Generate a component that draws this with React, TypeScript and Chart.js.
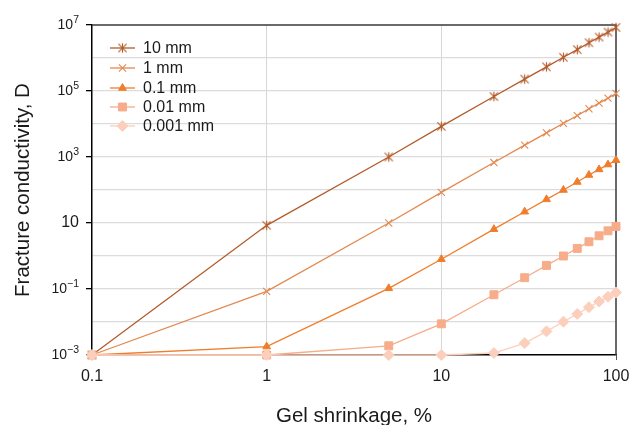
import React, { useEffect, useRef } from 'react';
import { Chart, registerables } from 'chart.js';
import { drawPoint } from 'chart.js/helpers';

Chart.register(...registerables);

// ---- data ----
const shrinkage = [0.1, 1, 5, 10, 20, 30, 40, 50, 60, 70, 80, 90, 100];
const cond10mm = [0.001, 8.5, 1000, 8500, 68000, 230000, 540000, 1050000, 1800000, 2900000, 4300000, 6100000, 8400000];
const cond1mm = [0.001, 0.085, 10, 85, 680, 2300, 5400, 10500, 18000, 29000, 43000, 61000, 84000];
const cond01mm = [0.001, 0.0018, 0.105, 0.8, 6.5, 22, 52, 100, 175, 285, 420, 590, 800];
const cond001mm = [0.001, 0.001, 0.0019, 0.0088, 0.067, 0.22, 0.52, 1.0, 1.7, 2.7, 4.1, 5.8, 7.9];
const cond0001mm = [0.001, 0.001, 0.001, 0.001, 0.00115, 0.0023, 0.0052, 0.0102, 0.0175, 0.028, 0.042, 0.058, 0.078];

const seriesLabels = ['10 mm', '1 mm', '0.1 mm', '0.01 mm', '0.001 mm'];
const seriesColors = ['#b35b2a', '#e3894f', '#f07d2c', '#f7ac8a', '#fccfbd'];
const xTickValues = [0.1, 1, 10, 100];
const xTickLabels = ['0.1', '1', '10', '100'];
const yGridExponents = [-3, -2, -1, 0, 1, 2, 3, 4, 5, 6, 7];
const yLabelExponents = [-3, -1, 1, 3, 5, 7];
const xTitle = 'Gel shrinkage, %';
const yTitle = 'Fracture conductivity, D';

const FONT = '"Liberation Sans", Arial, Helvetica, sans-serif';

function makeAsterisk(color: string, r: number): HTMLCanvasElement {
  const c = document.createElement('canvas');
  const s = Math.ceil(r * 2 + 3);
  c.width = s;
  c.height = s;
  const g = c.getContext('2d')!;
  g.strokeStyle = color;
  g.lineWidth = 1.1;
  const m = s / 2;
  const d = r * 0.85;
  g.beginPath();
  g.moveTo(m - d, m - d); g.lineTo(m + d, m + d);
  g.moveTo(m + d, m - d); g.lineTo(m - d, m + d);
  g.moveTo(m, m - r); g.lineTo(m, m + r);
  g.stroke();
  return c;
}

export default function App() {
  const ref = useRef<HTMLCanvasElement | null>(null);

  useEffect(() => {
    const canvas = ref.current;
    if (!canvas) return;
    const asterisk = makeAsterisk(seriesColors[0], 4.8);
    const styles: any[] = [asterisk, 'crossRot', 'triangle', 'rect', 'rectRot'];
    const radii = [4.8, 5, 4.5, 5.6, 5.5];
    const borderW = [1.1, 1.1, 1, 1, 1];
    const values = [cond10mm, cond1mm, cond01mm, cond001mm, cond0001mm];

    const decor = {
      id: 'decor',
      beforeDatasetsDraw(chart: any) {
        const { ctx, chartArea: a } = chart;
        ctx.save();
        ctx.strokeStyle = '#3a3a3a';
        ctx.lineWidth = 1.5;
        ctx.beginPath();
        ctx.moveTo(a.left, a.top);
        ctx.lineTo(a.right, a.top);
        ctx.lineTo(a.right, a.bottom);
        ctx.stroke();
        ctx.restore();
      },
      afterDraw(chart: any) {
        const { ctx, chartArea: a } = chart;
        const ys = chart.scales.y;
        ctx.save();
        ctx.fillStyle = '#1a1a1a';
        // y tick labels with superscript exponents
        const right = a.left - 13;
        for (const e of yLabelExponents) {
          const y = ys.getPixelForValue(Math.pow(10, e));
          ctx.textBaseline = 'middle';
          if (e === 1) {
            ctx.font = `16px ${FONT}`;
            ctx.textAlign = 'right';
            ctx.fillText('10', right, y);
          } else {
            const expText = e < 0 ? '\u2212' + Math.abs(e) : String(e);
            ctx.font = `10.5px ${FONT}`;
            const ew = ctx.measureText(expText).width;
            ctx.textAlign = 'right';
            ctx.fillText(expText, right, y - 5);
            ctx.font = `14px ${FONT}`;
            ctx.fillText('10', right - ew, y);
          }
        }
        // axis titles
        ctx.font = `20.5px ${FONT}`;
        ctx.textAlign = 'center';
        ctx.textBaseline = 'alphabetic';
        ctx.fillText(xTitle, (a.left + a.right) / 2, 421.5);
        ctx.save();
        ctx.translate(28.5, (a.top + a.bottom) / 2);
        ctx.rotate(-Math.PI / 2);
        ctx.fillText(yTitle, 0, 0);
        ctx.restore();
        // legend
        const lx0 = 110, lx1 = 135, tx = 143;
        const rowY = [48, 68, 88, 107, 126];
        seriesLabels.forEach((label, i) => {
          const y = rowY[i];
          ctx.strokeStyle = seriesColors[i];
          ctx.fillStyle = seriesColors[i];
          ctx.lineWidth = 1.3;
          ctx.beginPath();
          ctx.moveTo(lx0, y);
          ctx.lineTo(lx1, y);
          ctx.stroke();
          ctx.lineWidth = borderW[i];
          drawPoint(ctx, { pointStyle: styles[i], radius: radii[i], rotation: 0, borderWidth: borderW[i] } as any, (lx0 + lx1) / 2, y);
          ctx.fillStyle = '#1a1a1a';
          ctx.font = `16px ${FONT}`;
          ctx.textAlign = 'left';
          ctx.textBaseline = 'middle';
          ctx.fillText(label, tx, y + 1);
        });
        ctx.restore();
      },
    };

    const chart = new Chart(canvas, {
      type: 'line',
      data: {
        datasets: seriesLabels.map((label, i) => ({
          label,
          data: shrinkage.map((x, j) => ({ x, y: values[i][j] })),
          borderColor: seriesColors[i],
          backgroundColor: seriesColors[i],
          pointBackgroundColor: seriesColors[i],
          pointBorderColor: seriesColors[i],
          pointStyle: styles[i],
          pointRadius: radii[i],
          pointBorderWidth: borderW[i],
          borderWidth: 1.3,
          tension: 0,
          clip: false as any,
          order: 4 - i,
        })),
      },
      options: {
        animation: false,
        responsive: false,
        maintainAspectRatio: false,
        layout: { autoPadding: false, padding: { left: 0, right: 14, top: 25, bottom: 0 } },
        plugins: { legend: { display: false }, tooltip: { enabled: false } },
        scales: {
          x: {
            type: 'logarithmic',
            min: 0.1,
            max: 100,
            afterBuildTicks: (s: any) => {
              s.ticks = xTickValues.map((v) => ({ value: v }));
            },
            afterFit: (s: any) => {
              s.height = 70;
              s.paddingLeft = 0;
              s.paddingRight = 0;
            },
            ticks: {
              autoSkip: false,
              maxRotation: 0,
              padding: 7,
              color: '#1a1a1a',
              font: { family: FONT, size: 16 },
              callback: (v: any) => {
                const idx = xTickValues.indexOf(Number(v));
                return idx >= 0 ? xTickLabels[idx] : '';
              },
            },
            grid: {
              color: (c: any) => (c.tick && (c.tick.value === 1 || c.tick.value === 10) ? '#d6d6d6' : 'rgba(0,0,0,0)'),
              tickColor: '#555',
              tickLength: 5,
              lineWidth: 1,
            },
            border: { color: '#000', width: 1.5 },
          },
          y: {
            type: 'logarithmic',
            min: 0.001,
            max: 1e7,
            afterBuildTicks: (s: any) => {
              s.ticks = yGridExponents.map((e) => ({ value: Math.pow(10, e) }));
            },
            afterFit: (s: any) => {
              s.width = 92;
              s.paddingTop = 0;
              s.paddingBottom = 0;
            },
            ticks: { display: false },
            grid: {
              color: (c: any) => {
                const v = c.tick ? c.tick.value : 0;
                if (v >= 1e7 * 0.99 || v <= 0.00101) return 'rgba(0,0,0,0)';
                return '#dcdcdc';
              },
              lineWidth: 1.3,
              tickColor: (c: any) => {
                const v = c.tick ? c.tick.value : 0;
                const e = Math.round(Math.log10(v));
                return yLabelExponents.includes(e) ? '#000' : 'rgba(0,0,0,0)';
              },
              tickLength: 6,
            },
            border: { color: '#000', width: 1.5 },
          },
        },
      },
      plugins: [decor],
    } as any);

    return () => chart.destroy();
  }, []);

  return (
    <div style={{ position: 'fixed', left: 0, top: 0, width: 630, height: 425, background: '#fff' }}>
      <canvas ref={ref} width={630} height={425} style={{ display: 'block', width: 630, height: 425 }} />
    </div>
  );
}
